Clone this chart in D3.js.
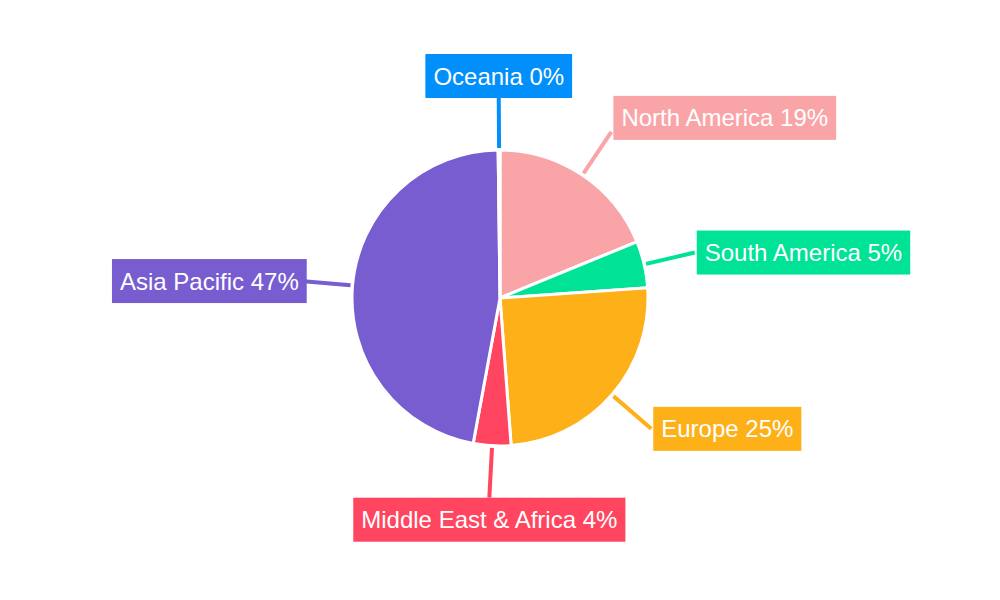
<!DOCTYPE html>
<html><head><meta charset="utf-8">
<script src="https://cdn.jsdelivr.net/npm/d3@7"></script>
<style>body{margin:0;background:#fff}</style>
</head><body>
<svg id="chart" width="1000" height="600"></svg>
<script>
// slice data, clockwise from 12 o'clock
var regions = ["North America", "South America", "Europe", "Middle East & Africa", "Asia Pacific", "Oceania"];
var shares = [18.8, 5.1, 24.9, 4.1, 46.9, 0.2];
var colors = ["#F9A5A7", "#00E396", "#FEB019", "#FF4560", "#775DD0", "#008FFB"];

var svg = d3.select("#chart");
var cx = 500, cy = 298, r = 148;
var g = svg.append("g").attr("transform", "translate(" + cx + "," + cy + ")");

var pie = d3.pie().sort(null).value(function(d){ return d; });
var arcs = pie(shares);
var arc = d3.arc().innerRadius(0).outerRadius(r);

g.selectAll("path").data(arcs).enter().append("path")
    .attr("d", arc)
    .attr("fill", function(d, i){ return colors[i]; })
    .attr("stroke", "#fff").attr("stroke-width", 3);

var lineArcStart = d3.arc().innerRadius(r + 2).outerRadius(r + 2);
var lineArcEnd = d3.arc().innerRadius(r + 52).outerRadius(r + 52);

arcs.forEach(function(d, i){
    var p0 = lineArcStart.centroid(d), p1 = lineArcEnd.centroid(d);
    g.append("line").attr("x1", p0[0]).attr("y1", p0[1]).attr("x2", p1[0]).attr("y2", p1[1])
        .attr("stroke", colors[i]).attr("stroke-width", 4);
    var label = regions[i] + " " + Math.round(shares[i]) + "%";
    var lg = g.append("g");
    var t = lg.append("text").text(label).attr("fill", "#fff")
        .attr("font-family", "Liberation Sans, Arial, sans-serif").attr("font-size", 24)
        .attr("dominant-baseline", "central");
    var w = t.node().getComputedTextLength() + 16, h = 44;
    var bx, by;
    if (Math.abs(p1[0]) < 15) {
        bx = p1[0] - w / 2;
        by = p1[1] < 0 ? p1[1] - h : p1[1];
    } else if (p1[0] > 0) {
        bx = p1[0] + 2; by = p1[1] - h / 2 - (p1[1] < -100 ? 14 : 0);
    } else {
        bx = p1[0] - w + 6; by = p1[1] - h / 2;
    }
    lg.insert("rect", "text").attr("x", bx).attr("y", by).attr("width", w).attr("height", h)
        .attr("fill", colors[i]);
    t.attr("x", bx + 8).attr("y", by + h / 2);
});
</script>
</body></html>
